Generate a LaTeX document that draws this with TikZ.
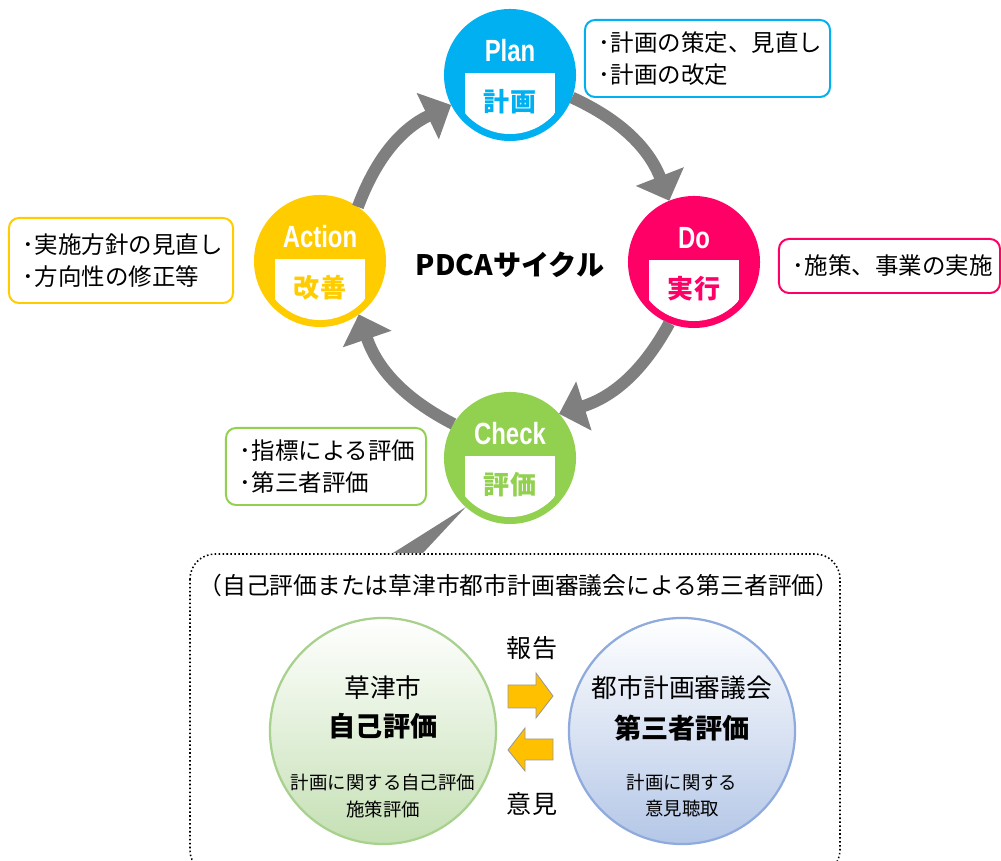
\documentclass[tikz,border=0pt]{standalone}
\usepackage{fontspec}
\setmainfont{Noto Sans CJK JP}
\newfontfamily\condfont{Liberation Sans}[FakeStretch=0.78]
\usepackage{tikz}
\usetikzlibrary{arrows.meta,calc}
\definecolor{planc}{HTML}{00B0F0}
\definecolor{doc}{HTML}{FF0066}
\definecolor{checkc}{HTML}{92D050}
\definecolor{actc}{HTML}{FFCC00}
\definecolor{arrowc}{HTML}{7F7F7F}
\definecolor{arrowor}{HTML}{FFC000}
\definecolor{selfbot}{HTML}{C5E0B4}
\definecolor{selfline}{HTML}{A9D18E}
\definecolor{thirdbot}{HTML}{B4C7E7}
\definecolor{thirdline}{HTML}{8FAADC}
\tikzset{
    phase/.style={circle,minimum size=3.3cm,inner sep=0pt,outer sep=0pt},
    entext/.style={text=white,font=\condfont\bfseries\fontsize{21.8pt}{22pt}\selectfont,inner sep=0pt},
    jatext/.style={font=\bfseries\fontsize{18.5pt}{19pt}\selectfont,inner sep=0pt},
    cyclearrow/.style={draw=arrowc,line width=0.3cm,-{Triangle[width=1.25cm,length=0.65cm]}},
    note/.style={draw=#1,line width=1.4pt,rounded corners=0.25cm,fill=white,align=left,
        inner xsep=0.35cm,font=\fontsize{16.7pt}{22.8pt}\selectfont},
    evalbox/.style={draw=black,line width=1.1pt,dash pattern=on 1.1pt off 1.7pt,rounded corners=0.625cm},
    evalcircle/.style={circle,minimum size=5.65cm,inner sep=0pt,line width=1.6pt},
    bigtext/.style={font=\fontsize{18.3pt}{19pt}\selectfont,inner sep=0pt},
    boldtext/.style={font=\bfseries\fontsize{19.3pt}{20pt}\selectfont,inner sep=0pt},
    smalltext/.style={font=\fontsize{13.1pt}{18.5pt}\selectfont,align=center,inner sep=0pt},
    orangearrow/.style={fill=arrowor,draw=gray!80,line width=0.6pt}
}
\begin{document}
\begin{tikzpicture}[x=0.025cm,y=0.025cm]
        \useasboundingbox (0,0) rectangle (1001,861);%画面范围
        \foreach \nm/\x/\y/\col/\en/\ja in {plan/510/786/planc/Plan/計画,do/694/599/doc/Do/実行,
            check/510/403/checkc/Check/評価,action/320/600/actc/Action/改善}%四个阶段
        {
            \node[phase,fill=\col] (\nm) at (\x,\y) {};
            \begin{scope}
                \clip (\x,\y) circle (1.475cm);
                \fill[white] (\x-45,\y+2) rectangle (\x+45,\y-70);
            \end{scope}
            \node[entext] (\nm-en) at (\x,\y+24) {\en};
            \node[jatext,text=\col] (\nm-ja) at (\x,\y-27) {\ja};
        }
        \draw[cyclearrow] (plan.-20) to[bend left=22] (do.112);
        \draw[cyclearrow] (do.-112) to[bend left=22] (check.42);
        \draw[cyclearrow] (check.149) to[bend left=22] (action.-54);
        \draw[cyclearrow] (action.55) to[bend left=22] (plan.207);
        \node[font=\bfseries\fontsize{20pt}{20pt}\selectfont] (title) at (510,596) {PDCAサイクル};
        \node[note=planc,text width=5.425cm,minimum height=1.925cm] (plannote) at (707.5,802.5) {･計画の策定、見直し\\･計画の改定};
        \node[note=doc,text width=4.825cm,minimum height=1.35cm] (donote) at (889.5,595) {･施策、事業の実施};
        \node[note=actc,text width=4.9cm,minimum height=2.125cm] (actnote) at (121,600.5) {･実施方針の見直し\\･方向性の修正等};
        \node[note=checkc,text width=4.3cm,minimum height=1.925cm] (checknote) at (326,394.5) {･指標による評価\\･第三者評価};
        %评价部分
        \coordinate (wedgel) at (393,308);
        \coordinate (wedger) at (423,308);
        \fill[arrowc] (check.228) -- (wedgel) -- (wedger) -- cycle;
        \draw[evalbox] (190,307) rectangle (840,-14);
        \node[bigtext,font=\fontsize{16.9pt}{17pt}\selectfont] (evalhead) at (519,276) {（自己評価または草津市都市計画審議会による第三者評価）};
        \node[evalcircle,top color=white,bottom color=selfbot,draw=selfline] (self) at (383,130) {};
        \node[evalcircle,top color=white,bottom color=thirdbot,draw=thirdline] (third) at (682,130) {};
        \node[bigtext] (selfname) at (383,173) {草津市};
        \node[boldtext] (selfeval) at (383,135) {自己評価};
        \node[smalltext] (selfnote) at (383,65) {計画に関する自己評価\\施策評価};
        \node[bigtext] (thirdname) at (682,173) {都市計画審議会};
        \node[boldtext] (thirdeval) at (682,133) {第三者評価};
        \node[smalltext] (thirdnote) at (682,65) {計画に関する\\意見聴取};
        \draw[orangearrow] (508,176) -- (536,176) -- (536,188) -- (553,165) -- (536,143) -- (536,153) -- (508,153) -- cycle;
        \draw[orangearrow] (553,122) -- (525,122) -- (525,133) -- (508,111) -- (525,90) -- (525,101) -- (553,101) -- cycle;
        \node[bigtext,font=\fontsize{17.8pt}{18pt}\selectfont] (report) at (532,213) {報告};
        \node[bigtext,font=\fontsize{17.8pt}{18pt}\selectfont] (opinion) at (532,57) {意見};
\end{tikzpicture}
\end{document}
